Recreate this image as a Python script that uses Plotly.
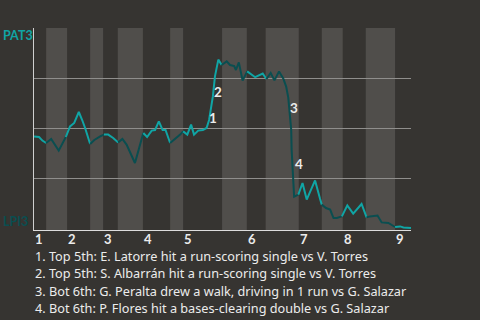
import plotly.graph_objects as go

# ---- data ----
away_team = "PAT3"
home_team = "LPI3"
innings = ["1", "2", "3", "4", "5", "6", "7", "8", "9"]

# half-inning start positions on the play axis (top1, bot1, top2, ...), plus game end
half_starts = [0, 2.9, 7.9, 13.4, 16.5, 20.0, 26.0, 32.5, 35.6, 44.9,
               50.8, 55.3, 63.2, 68.7, 73.7, 79.2, 86.2]
game_end = 90.0

# play progress and away-team win probability
play_x = [0, 1.2, 2.0, 2.9, 4.1, 5.9, 7.6, 8.6, 9.6, 10.7, 11.5, 12.2, 13.4, 14.4,
          15.8, 16.7, 17.7, 18.9, 20.1, 21.1, 22.1, 23.1, 24.1, 26.1, 27.0, 28.1,
          28.9, 29.8, 30.7, 31.4, 32.5, 33.7, 34.9, 35.6, 36.6, 37.5, 38.2, 39.2,
          40.3, 41.2, 41.8, 42.7, 43.2, 44.0, 44.8, 46.0, 46.8, 47.8, 48.2, 48.9,
          49.8, 50.9, 52.8, 54.6, 55.5, 56.5, 57.4, 58.5, 59.5, 60.2, 60.7, 61.0,
          61.4, 61.5, 61.9, 62.1, 63.1, 64.1, 65.1, 67.1, 68.3, 68.7, 69.7, 70.7,
          71.5, 72.3, 73.5, 74.8, 76.2, 78.2, 79.4, 80.2, 82.0, 83.0, 84.6, 86.2,
          87.4, 88.2, 89.4, 90.0]
win_prob = [0.458, 0.455, 0.437, 0.425, 0.445, 0.387, 0.455, 0.508, 0.525, 0.58,
            0.54, 0.50, 0.42, 0.44, 0.458, 0.467, 0.467, 0.45, 0.428, 0.445, 0.417,
            0.367, 0.325, 0.475, 0.455, 0.487, 0.49, 0.533, 0.49, 0.49, 0.425,
            0.445, 0.467, 0.483, 0.467, 0.517, 0.467, 0.487, 0.49, 0.50, 0.54,
            0.658, 0.758, 0.842, 0.815, 0.833, 0.815, 0.81, 0.79, 0.828, 0.737,
            0.783, 0.754, 0.772, 0.745, 0.775, 0.738, 0.783, 0.748, 0.707, 0.652,
            0.592, 0.492, 0.392, 0.252, 0.157, 0.167, 0.225, 0.142, 0.238, 0.145,
            0.117, 0.10, 0.092, 0.05, 0.05, 0.058, 0.113, 0.072, 0.12, 0.053,
            0.058, 0.062, 0.028, 0.025, 0.005, 0.008, 0.003, 0.0, 0.0]

# key events: label, position on play axis, win probability at label
event_labels = ["1", "2", "3", "4"]
event_x = [42.85, 43.9, 62.05, 63.15]
event_y = [0.552, 0.682, 0.60, 0.32]
event_text = [
    "1. Top 5th: E. Latorre hit a run-scoring single vs V. Torres",
    "2. Top 5th: S. Albarrán hit a run-scoring single vs V. Torres",
    "3. Bot 6th: G. Peralta drew a walk, driving in 1 run vs G. Salazar",
    "4. Bot 6th: P. Flores hit a bases-clearing double vs G. Salazar",
]

# ---- style ----
BG = "#363431"
BAND = "#504e4b"
GRID = "#8f8e8c"
AWAY_C = "#10a5a5"
HOME_C = "#0a4e50"
TXT = "#ececec"
FONT = "Lato"
TEXT_FONT = "Noto Sans"

fig = go.Figure()

def half_of(x):
    k = 0
    for i, s in enumerate(half_starts):
        if x >= s:
            k = i
    return k

# split line into runs by half inning (segment coloured by half inning of its midpoint)
seg_half = [half_of((play_x[i] + play_x[i + 1]) / 2) for i in range(len(play_x) - 1)]
i = 0
while i < len(seg_half):
    j = i
    while j + 1 < len(seg_half) and seg_half[j + 1] % 2 == seg_half[i] % 2:
        j += 1
    color = AWAY_C if seg_half[i] % 2 == 0 else HOME_C
    fig.add_trace(go.Scatter(x=play_x[i:j + 2], y=win_prob[i:j + 2], mode="lines",
                             line=dict(color=color, width=2), hoverinfo="skip",
                             showlegend=False))
    i = j + 1

shapes = []
bounds = half_starts + [game_end]
for k in range(len(half_starts)):
    if k % 2 == 1:
        shapes.append(dict(type="rect", xref="x", yref="paper", x0=bounds[k], x1=bounds[k + 1],
                           y0=0, y1=1, fillcolor=BAND, line=dict(width=0), layer="below"))

annotations = []
for n, lab in enumerate(innings):
    annotations.append(dict(x=half_starts[2 * n], y=0, xref="x", yref="paper", text=lab,
                            showarrow=False, xanchor="left", yanchor="middle", yshift=-8.5,
                            borderpad=0,
                            font=dict(family=FONT, size=13, color=TXT, weight="bold")))
for lab, ex, ey in zip(event_labels, event_x, event_y):
    annotations.append(dict(x=ex, y=ey, xref="x", yref="y", text=lab, showarrow=False,
                            xanchor="center", yanchor="middle",
                            font=dict(family=FONT, size=13.5, color=TXT, weight="bold")))
for n, t in enumerate(event_text):
    annotations.append(dict(x=0, y=0, xref="paper", yref="paper", text=t, showarrow=False,
                            xanchor="left", yanchor="middle", xshift=0, yshift=-25.5 - 17.6 * n,
                            borderpad=0,
                            font=dict(family=TEXT_FONT, size=12.7, color=TXT)))
annotations.append(dict(x=0, y=1, xref="paper", yref="paper", text=away_team, showarrow=False,
                        xanchor="left", yanchor="middle", xshift=-33, yshift=-7,
                        font=dict(family=FONT, size=12.5, color=AWAY_C, weight="bold")))
annotations.append(dict(x=0, y=0, xref="paper", yref="paper", text=home_team, showarrow=False,
                        xanchor="left", yanchor="middle", xshift=-33, yshift=9,
                        font=dict(family=FONT, size=12.5, color=HOME_C, weight="bold")))

fig.update_layout(
    width=480, height=320,
    margin=dict(l=34, r=69, t=28, b=90),
    paper_bgcolor=BG, plot_bgcolor=BG,
    shapes=shapes, annotations=annotations,
    xaxis=dict(range=[0, game_end], showgrid=False, zeroline=False, showticklabels=False,
               showline=True, linecolor="#dddddd", linewidth=1, ticks=""),
    yaxis=dict(range=[-0.01, 1.0], tickvals=[0.25, 0.5, 0.75, 1.0], showticklabels=False,
               showgrid=True, gridcolor=GRID, gridwidth=1, zeroline=False,
               showline=True, linecolor="#cfcfcf", linewidth=1, ticks=""),
)

fig.write_html("out.html")
